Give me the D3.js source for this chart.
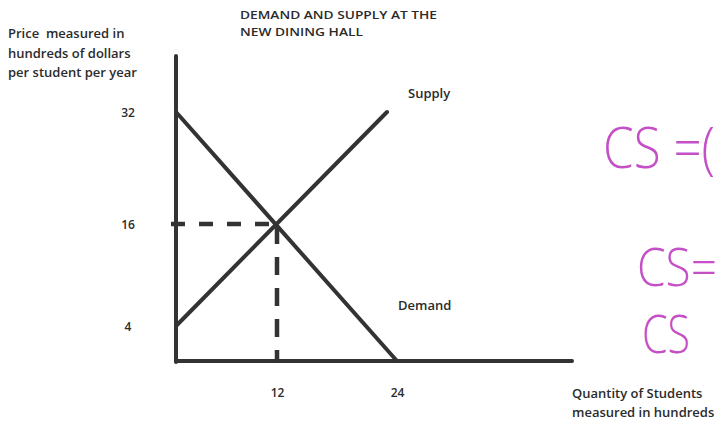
<!DOCTYPE html>
<html>
<head>
<meta charset="utf-8">
<script src="https://cdn.jsdelivr.net/npm/d3@7"></script>
<style>
  html, body { margin: 0; padding: 0; background: #fff; }
  svg { display: block; }
  text { font-family: "Open Sans", "Liberation Sans", sans-serif; font-weight: 600; fill: #2b2b2b; }
  .hand { font-family: "Open Sans", "Liberation Sans", sans-serif; font-weight: 300; fill: #c44fc6; }
</style>
</head>
<body>
<svg id="chart" width="726" height="424"></svg>
<script>
// ---- data ----
const titleLines = ["DEMAND AND SUPPLY AT THE", "NEW DINING HALL"];
const yTitleLines = ["Price  measured in", "hundreds of dollars", "per student per year"];
const xTitleLines = ["Quantity of Students", "measured in hundreds"];
const priceTicks = [4, 16, 32];
const quantityTicks = [12, 24];
const demand = [{q: 0, p: 32}, {q: 24, p: 0}];
const supply = [{q: 0, p: 4}, {q: 23, p: 32}];
const equilibrium = {q: 12, p: 16};
const seriesLabels = ["Supply", "Demand"];
const notes = ["CS =(", "CS=", "CS"];

// ---- layout ----
const svg = d3.select("#chart");
// hand-drawn chart: piecewise linear scales fitted to the drawing
const x = d3.scaleLinear().domain([0, 12, 24]).range([176, 277, 397]);
const y = d3.scaleLinear().domain([0, 4, 16, 32]).range([361, 326, 224, 112]);
const qMax = 41.5, pMax = 40;
const ink = "#333";

// axes lines
svg.append("line")
  .attr("x1", x(0)).attr("x2", x(0)).attr("y1", y(0) + 1).attr("y2", y(pMax))
  .attr("stroke", ink).attr("stroke-width", 4).attr("stroke-linecap", "round");
svg.append("line")
  .attr("x1", x(0)).attr("x2", x(qMax)).attr("y1", y(0)).attr("y2", y(0))
  .attr("stroke", ink).attr("stroke-width", 4).attr("stroke-linecap", "round");

// tick labels via axes
const yAxis = svg.append("g").attr("transform", `translate(${x(0)},0)`)
  .call(d3.axisLeft(y).tickValues(priceTicks).tickSize(0).tickPadding(0));
yAxis.select(".domain").remove();
yAxis.selectAll("text")
  .attr("x", -48).attr("text-anchor", "middle").attr("dy", "0.35em")
  .style("font-size", "12px").style("font-family", "'Open Sans', sans-serif")
  .style("font-weight", 600).attr("fill", "#2b2b2b");

const xAxis = svg.append("g").attr("transform", `translate(0,${y(0)})`)
  .call(d3.axisBottom(x).tickValues(quantityTicks).tickSize(0).tickPadding(27));
xAxis.select(".domain").remove();
xAxis.selectAll("text")
  .style("font-size", "12px").style("font-family", "'Open Sans', sans-serif")
  .style("font-weight", 600).attr("fill", "#2b2b2b");

// curves
const line = d3.line().x(d => x(d.q)).y(d => y(d.p));
svg.append("path").datum(demand).attr("d", line)
  .attr("fill", "none").attr("stroke", ink).attr("stroke-width", 4).attr("stroke-linecap", "round");
svg.append("path").datum(supply).attr("d", line)
  .attr("fill", "none").attr("stroke", ink).attr("stroke-width", 4).attr("stroke-linecap", "round");

// dashed guides
svg.append("path").datum([{q: 0, p: equilibrium.p}, equilibrium])
  .attr("d", d3.line().x(d => x(d.q) - (d.q === 0 ? 5 : 0)).y(d => y(d.p)))
  .attr("fill", "none").attr("stroke", ink).attr("stroke-width", 4.5)
  .attr("stroke-dasharray", "14 14");
svg.append("path").datum([equilibrium, {q: equilibrium.q, p: 0}])
  .attr("d", line)
  .attr("fill", "none").attr("stroke", ink).attr("stroke-width", 4.5)
  .attr("stroke-dasharray", "18 13").attr("stroke-dashoffset", -2);

// titles
svg.append("g").selectAll("text").data(titleLines).join("text")
  .attr("x", 240).attr("y", (d, i) => 19 + i * 17)
  .style("font-size", "11.5px").attr("textLength", (d, i) => i === 0 ? 197 : 123)
  .attr("lengthAdjust", "spacingAndGlyphs")
  .text(d => d);

svg.append("g").selectAll("text").data(yTitleLines).join("text")
  .attr("x", 8).attr("y", (d, i) => 38 + i * 19.5)
  .style("font-size", "13px").style("white-space", "pre")
  .text(d => d);

svg.append("g").selectAll("text").data(xTitleLines).join("text")
  .attr("x", 572).attr("y", (d, i) => 398 + i * 18.5)
  .style("font-size", "13px")
  .text(d => d);

// series labels
svg.append("text").attr("x", x(23) + 21).attr("y", 98).style("font-size", "13px").text(seriesLabels[0]);
svg.append("text").attr("x", x(24) + 1).attr("y", 310).style("font-size", "13px").text(seriesLabels[1]);

// handwritten annotations (tall, narrow strokes)
const notePos = [
  {x: 603, y: 168, size: 40, sy: 1.45, len: 112},
  {x: 637, y: 286, size: 38, sy: 1.42, len: 80},
  {x: 642, y: 353, size: 38, sy: 1.42, len: 48}
];
svg.append("g").selectAll("g").data(notes).join("g")
  .attr("transform", (d, i) => `translate(${notePos[i].x},${notePos[i].y}) scale(1,${notePos[i].sy})`)
  .append("text")
  .attr("class", "hand")
  .attr("x", 0).attr("y", 0)
  .style("font-size", (d, i) => notePos[i].size + "px")
  .attr("textLength", (d, i) => notePos[i].len)
  .attr("lengthAdjust", "spacingAndGlyphs")
  .text(d => d);
</script>
</body>
</html>
